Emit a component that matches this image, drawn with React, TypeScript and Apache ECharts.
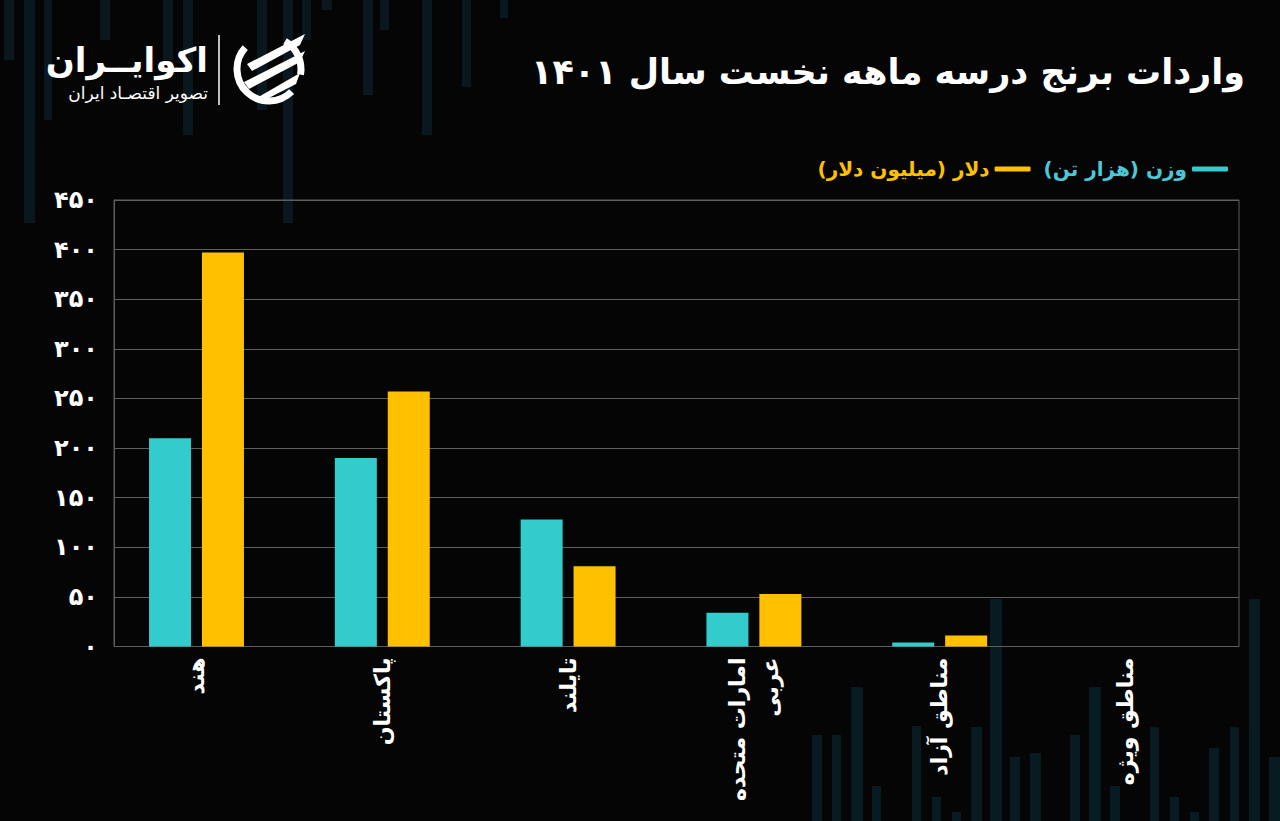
import React, { useEffect, useRef } from "react";
import * as echarts from "echarts";

const categories = ["هند", "پاکستان", "تایلند", "امارات متحده\nعربی", "مناطق آزاد", "مناطق ویژه"];
const weightValues = [210, 190, 128, 34, 4, 0];
const dollarValues = [397, 257, 81, 53, 11, 0];
const yTickLabels = ["۰", "۵۰", "۱۰۰", "۱۵۰", "۲۰۰", "۲۵۰", "۳۰۰", "۳۵۰", "۴۰۰", "۴۵۰"];
const seriesNames = ["وزن (هزار تن)", "دلار (میلیون دلار)"];
const titleText = "واردات برنج درسه ماهه نخست سال ۱۴۰۱";
const brandText = "اکوایــران";
const brandSub = "تصویر اقتصـاد ایران";

// decorative background stripes: [x, width, yTop, yBottom]
const decoTop = [
  [4, 10, 0, 60], [24, 11, 0, 223], [44, 8, 0, 120], [100, 10, 0, 40], [163, 10, 0, 60],
  [183, 10, 0, 135], [257, 10, 0, 110], [283, 10, 0, 223], [302, 9, 0, 40], [322, 10, 0, 10],
  [363, 10, 0, 95], [380, 9, 0, 30], [422, 10, 0, 135], [462, 9, 0, 87], [500, 8, 0, 18],
];
const decoBottom = [
  [812, 10, 735], [832, 9, 735], [851, 12, 687], [872, 9, 786], [912, 9, 726], [932, 9, 797],
  [952, 9, 812], [971, 11, 727], [990, 12, 599], [1010, 10, 757], [1030, 11, 753], [1070, 10, 735],
  [1089, 12, 687], [1110, 10, 786], [1150, 9, 727], [1170, 9, 797], [1190, 9, 812], [1209, 10, 748],
  [1230, 9, 727], [1249, 11, 599], [1269, 11, 757],
];

export default function App() {
  const ref = useRef<HTMLDivElement>(null);
  useEffect(() => {
    if (!ref.current) return;
    const chart = echarts.init(ref.current, null, { renderer: "svg" });
    const deco: any[] = [];
    decoTop.forEach(([x, w, y0, y1]) =>
      deco.push({ type: "rect", z: -10, shape: { x, y: y0, width: w, height: y1 - y0 }, style: { fill: "#08181e" } })
    );
    decoBottom.forEach(([x, w, y0]) =>
      deco.push({ type: "rect", z: -10, shape: { x, y: y0, width: w, height: 821 - y0 }, style: { fill: "#091b22" } })
    );
    const rad = (d: number) => (d * Math.PI) / 180;
    const logo: any[] = [
      { type: "text", x: 208, y: 60, style: { text: "\u200F" + brandText, fill: "#fff", fontSize: 34, fontWeight: "bold", fontFamily: "DejaVu Sans", align: "right", verticalAlign: "middle" } },
      { type: "text", x: 208, y: 93, style: { text: "\u200F" + brandSub, fill: "#fff", fontSize: 17, fontFamily: "DejaVu Sans", align: "right", verticalAlign: "middle" } },
      { type: "line", shape: { x1: 219, y1: 35, x2: 219, y2: 105 }, style: { stroke: "#fff", lineWidth: 1.5 } },
      { type: "arc", shape: { cx: 269, cy: 69, r: 32, startAngle: rad(45), endAngle: rad(222), clockwise: true }, style: { stroke: "#fff", lineWidth: 7, fill: "none" } },
      { type: "arc", shape: { cx: 269, cy: 69, r: 32, startAngle: rad(300), endAngle: rad(370), clockwise: true }, style: { stroke: "#fff", lineWidth: 7, fill: "none" } },
      { type: "polygon", shape: { points: [[247, 64], [305, 34], [300, 45], [252, 71]] }, style: { fill: "#fff" } },
      { type: "polygon", shape: { points: [[244, 82], [305, 51], [300, 62], [249, 89]] }, style: { fill: "#fff" } },
      { type: "polygon", shape: { points: [[255, 99], [300, 73], [296, 84], [263, 101]] }, style: { fill: "#fff" } },
    ];
    chart.setOption({
      animation: false,
      backgroundColor: "#050505",
      textStyle: { fontFamily: "DejaVu Sans" },
      graphic: [
        ...deco,
        ...logo,
        { type: "text", x: 1245, y: 72, style: { text: "\u200F" + titleText, fill: "#fff", fontSize: 35, fontWeight: "bold", fontFamily: "DejaVu Sans", align: "right", verticalAlign: "middle" } },
      ],
      legend: {
        right: 47,
        top: 154,
        icon: "roundRect",
        itemWidth: 36,
        itemHeight: 5,
        itemGap: 13,
        align: "right",
        formatter: (n: string) => "\u200F" + n + "\u200F",
        textStyle: { fontSize: 20, fontWeight: "bold", fontFamily: "DejaVu Sans" },
        data: [
          { name: seriesNames[1], textStyle: { color: "#FFC000" } },
          { name: seriesNames[0], textStyle: { color: "#4CC8D6" } },
        ],
      },
      grid: [
        { left: 114, right: 41, top: 200, bottom: 174.5, show: true, borderColor: "#5e5e5e", borderWidth: 1 },
        { left: 103.6, width: 1114.8, top: 200, bottom: 174.5 },
      ],
      xAxis: [
        { gridIndex: 0, type: "value", show: false, min: 0, max: 1 },
        {
          gridIndex: 1,
          type: "category",
          data: categories,
          axisLine: { show: false },
          axisTick: { show: false },
          axisLabel: { rotate: 90, color: "#fff", fontSize: 22, fontWeight: "bold", margin: 11, lineHeight: 33 },
        },
      ],
      yAxis: [
        {
          gridIndex: 0,
          type: "value",
          min: 0,
          max: 450,
          interval: 50,
          axisLine: { show: true, lineStyle: { color: "#5e5e5e" } },
          axisTick: { show: false },
          splitLine: { lineStyle: { color: "#5e5e5e", width: 1 } },
          axisLabel: { color: "#fff", fontSize: 24, fontWeight: "bold", margin: 16, formatter: (v: number) => yTickLabels[Math.round(v / 50)] },
        },
        { gridIndex: 1, type: "value", min: 0, max: 450, show: false, splitLine: { show: false } },
      ],
      series: [
        { name: seriesNames[0], type: "bar", xAxisIndex: 1, yAxisIndex: 1, data: weightValues, barWidth: 42, barGap: "26%", itemStyle: { color: "#33CCCC" } },
        { name: seriesNames[1], type: "bar", xAxisIndex: 1, yAxisIndex: 1, data: dollarValues, barWidth: 42, barGap: "26%", itemStyle: { color: "#FFC000" } },
      ],
    });
    return () => chart.dispose();
  }, []);
  return <div ref={ref} style={{ width: 1280, height: 821, position: "absolute", left: 0, top: 0 }} />;
}
